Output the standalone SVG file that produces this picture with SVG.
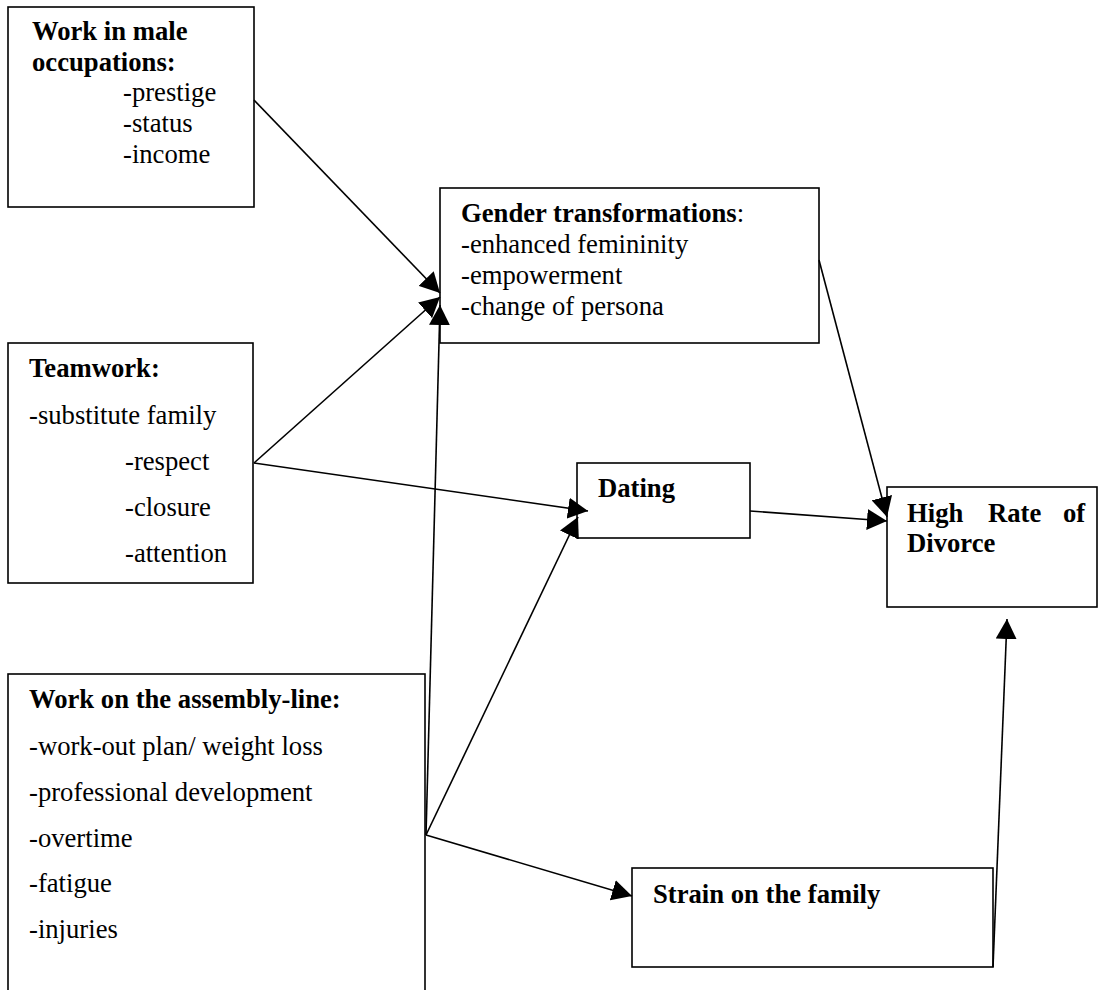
<svg xmlns="http://www.w3.org/2000/svg" width="1099" height="990" viewBox="0 0 1099 990">
<style>
  .box { fill: #fff; stroke: #000; stroke-width: 1.6; }
  .t { font-family: "Liberation Serif", "Times New Roman", serif; font-size: 26.67px; fill: #000; }
  .b { font-weight: bold; }
  .c { fill: none; stroke: #000; stroke-width: 1.6; marker-end: url(#arr); }
  .l { fill: none; stroke: #000; stroke-width: 1.6; }
</style>
<defs>
  <marker id="arr" viewBox="0 0 20 21" markerWidth="20" markerHeight="21" markerUnits="userSpaceOnUse" refX="20" refY="10.5" orient="auto">
    <path d="M0,0 L20,10.5 L0,21 z" fill="#000"/>
  </marker>
</defs>
<rect width="1099" height="990" fill="#fff"/>

<g id="n-male">
  <rect class="box" x="8" y="7" width="246" height="200"/>
  <text class="t b" x="32" y="40">Work in male</text>
  <text class="t b" x="32" y="71">occupations:</text>
  <text class="t" x="123" y="101">-prestige</text>
  <text class="t" x="123" y="132">-status</text>
  <text class="t" x="123" y="163">-income</text>
</g>

<g id="n-gender">
  <rect class="box" x="440" y="188" width="379" height="155"/>
  <text class="t" x="461" y="222"><tspan class="b">Gender transformations</tspan>:</text>
  <text class="t" x="461" y="253">-enhanced femininity</text>
  <text class="t" x="461" y="284">-empowerment</text>
  <text class="t" x="461" y="315">-change of persona</text>
</g>

<g id="n-teamwork">
  <rect class="box" x="8" y="343" width="245" height="240"/>
  <text class="t b" x="29" y="377">Teamwork:</text>
  <text class="t" x="29" y="424">-substitute family</text>
  <text class="t" x="125" y="470">-respect</text>
  <text class="t" x="125" y="516">-closure</text>
  <text class="t" x="125" y="562">-attention</text>
</g>

<g id="n-dating">
  <rect class="box" x="577" y="463" width="173" height="75"/>
  <text class="t b" x="598" y="497">Dating</text>
</g>

<g id="n-divorce">
  <rect class="box" x="887" y="487" width="210" height="120"/>
  <text class="t b" y="522"><tspan x="907">High</tspan><tspan x="988">Rate</tspan><tspan x="1063">of</tspan></text>
  <text class="t b" x="907" y="552">Divorce</text>
</g>

<g id="n-assembly">
  <rect class="box" x="8" y="674" width="417" height="340"/>
  <text class="t b" x="29" y="708">Work on the assembly-line:</text>
  <text class="t" x="29" y="755">-work-out plan/ weight loss</text>
  <text class="t" x="29" y="801">-professional development</text>
  <text class="t" x="29" y="847">-overtime</text>
  <text class="t" x="29" y="892">-fatigue</text>
  <text class="t" x="29" y="938">-injuries</text>
</g>

<g id="n-strain">
  <rect class="box" x="632" y="868" width="361" height="99"/>
  <text class="t b" x="653" y="903">Strain on the family</text>
</g>

<g id="connectors">
  <line class="c" x1="254" y1="100" x2="440" y2="293"/>
  <line class="c" x1="254" y1="463" x2="440" y2="297"/>
  <line class="c" x1="254" y1="463" x2="588" y2="511"/>
  <line class="c" x1="426" y1="835" x2="440" y2="305"/>
  <line class="c" x1="426" y1="835" x2="578" y2="517"/>
  <line class="c" x1="426" y1="835" x2="632" y2="896"/>
  <line class="c" x1="819" y1="260" x2="887" y2="517"/>
  <line class="c" x1="750" y1="511" x2="887" y2="521"/>
  <line class="c" x1="993" y1="967" x2="1007" y2="619"/>
</g>
</svg>
